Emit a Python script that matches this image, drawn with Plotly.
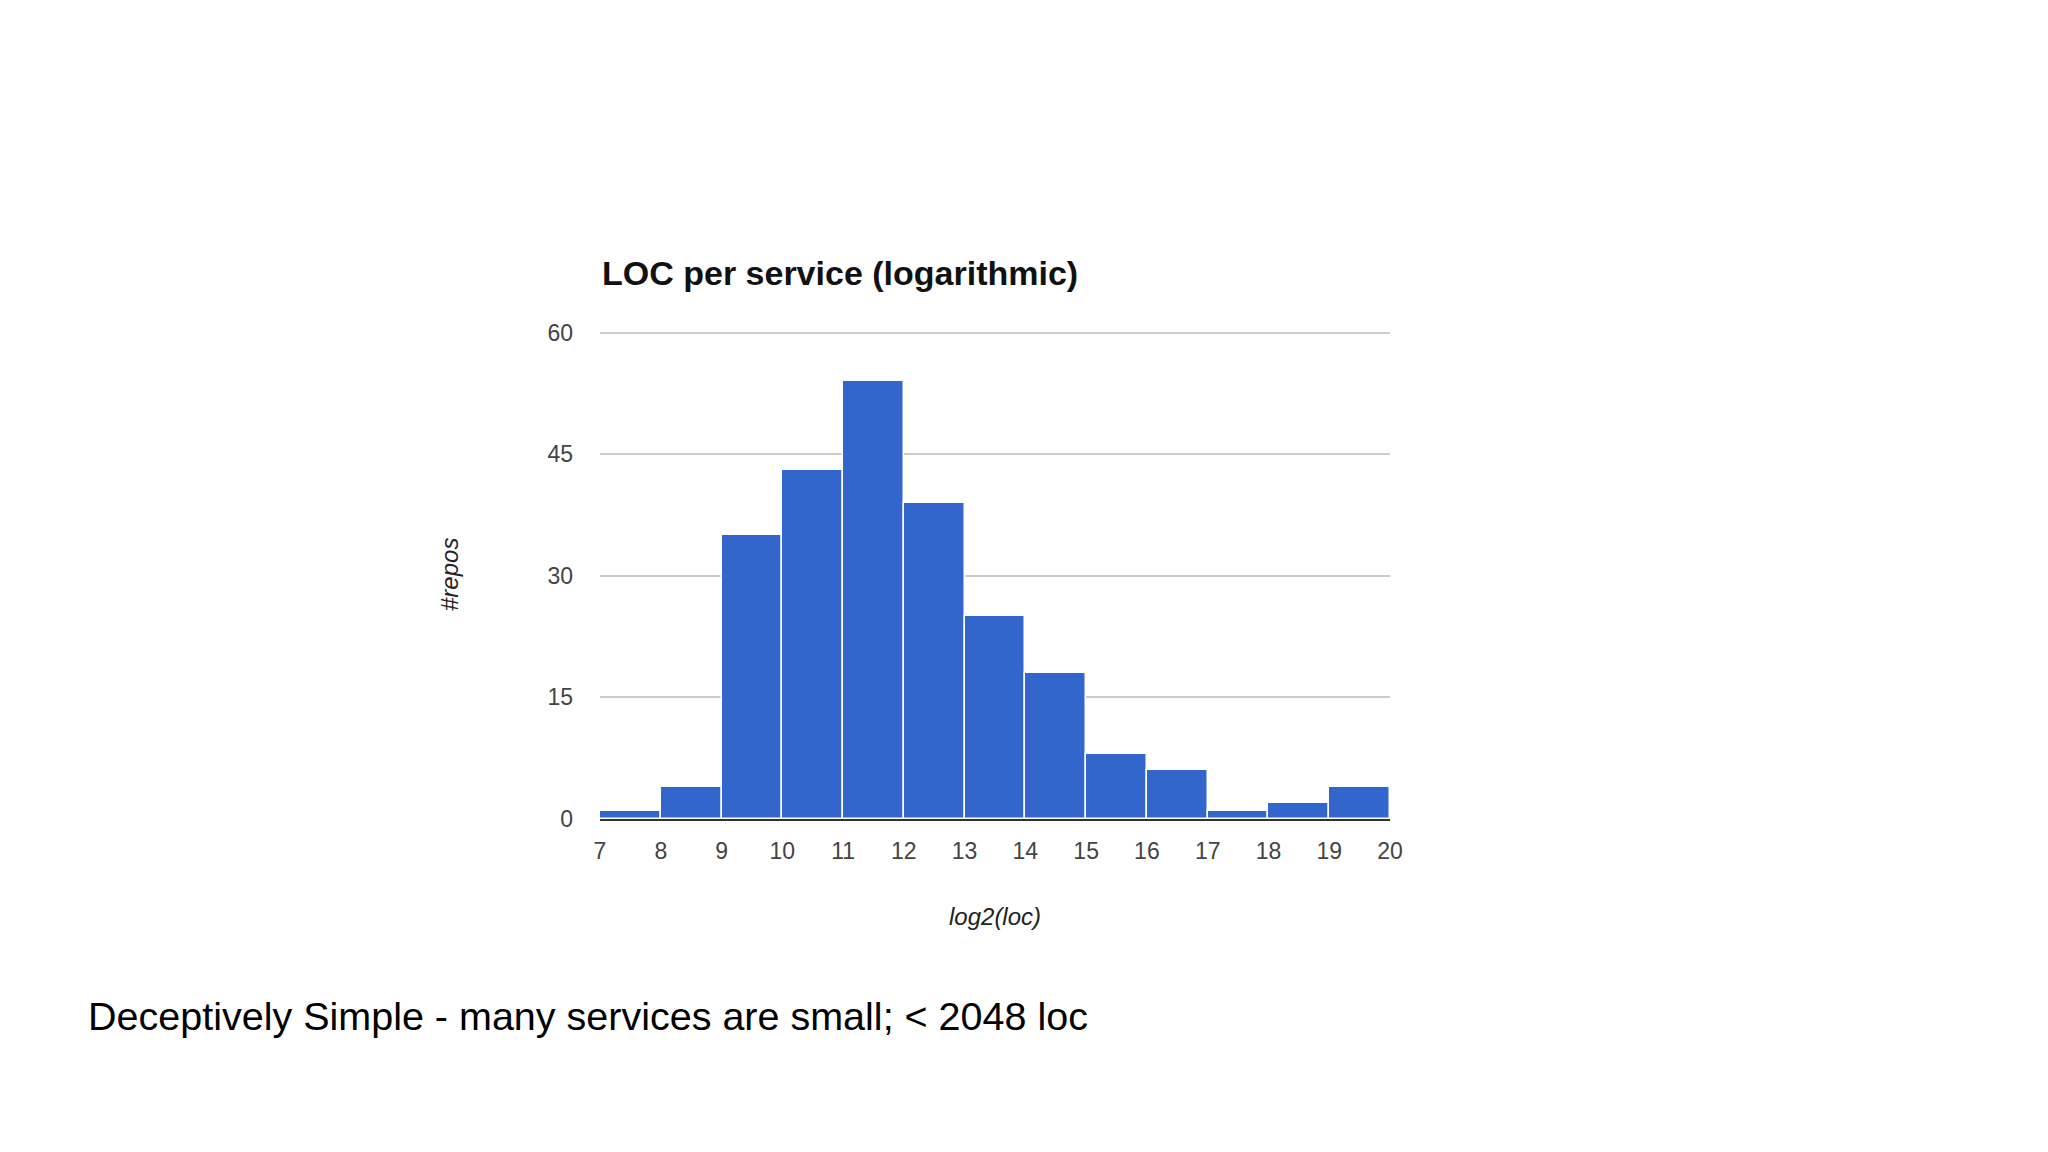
import plotly.graph_objects as go

# histogram data
bin_start = [7, 8, 9, 10, 11, 12, 13, 14, 15, 16, 17, 18, 19]
repos = [1, 4, 35, 43, 54, 39, 25, 18, 8, 6, 1, 2, 4]
x_ticks = list(range(7, 21))
y_ticks = [0, 15, 30, 45, 60]

title_text = 'LOC per service (logarithmic)'
caption_text = 'Deceptively Simple - many services are small; < 2048 loc'

font = 'Liberation Sans, Arial, sans-serif'

fig = go.Figure()

fig.add_trace(go.Bar(x=[b + 0.5 for b in bin_start], y=repos, width=1,
                     marker=dict(color='#3366cc', line=dict(color='white', width=1.5)),
                     showlegend=False, hoverinfo='y'))

fig.update_layout(
    width=2048, height=1152,
    margin=dict(l=592, r=666, t=323, b=341),
    plot_bgcolor='white', paper_bgcolor='white',
    font=dict(family=font, color='#444444'),
    bargap=0,
)

fig.update_xaxes(range=[7, 20], tickvals=x_ticks, showgrid=False, zeroline=False,
                 showline=True, linecolor='#333333', linewidth=2,
                 ticks='', ticklabelstandoff=10, tickfont=dict(size=23, color='#444444'))

fig.update_yaxes(range=[0, 60.2], tickvals=y_ticks, showgrid=True, gridcolor='#cccccc',
                 gridwidth=1.5, zeroline=False, showline=False, ticks='',
                 ticklabelstandoff=26, tickfont=dict(size=23, color='#444444'))

#title, axis titles and caption
fig.add_annotation(text='<b>' + title_text + '</b>', xref='paper', yref='paper',
                   x=0, y=1, xanchor='left', yanchor='middle', yshift=58, showarrow=False,
                   font=dict(size=34, color='#111111', family=font))

fig.add_annotation(text='<i>log2(loc)</i>', xref='paper', yref='paper',
                   x=0.5, y=0, xanchor='center', yanchor='middle', yshift=-97, showarrow=False,
                   font=dict(size=24, color='#222222', family=font))

fig.add_annotation(text='<i>#repos</i>', xref='paper', yref='paper',
                   x=0, y=0.5, xanchor='center', yanchor='middle', xshift=-151, textangle=-90,
                   showarrow=False, font=dict(size=24, color='#222222', family=font))

fig.add_annotation(text=caption_text, xref='paper', yref='paper',
                   x=0, y=0, xanchor='left', yanchor='middle', xshift=-514, yshift=-197,
                   showarrow=False, font=dict(size=39.5, color='#000000', family=font))

fig.write_html('out.html')
